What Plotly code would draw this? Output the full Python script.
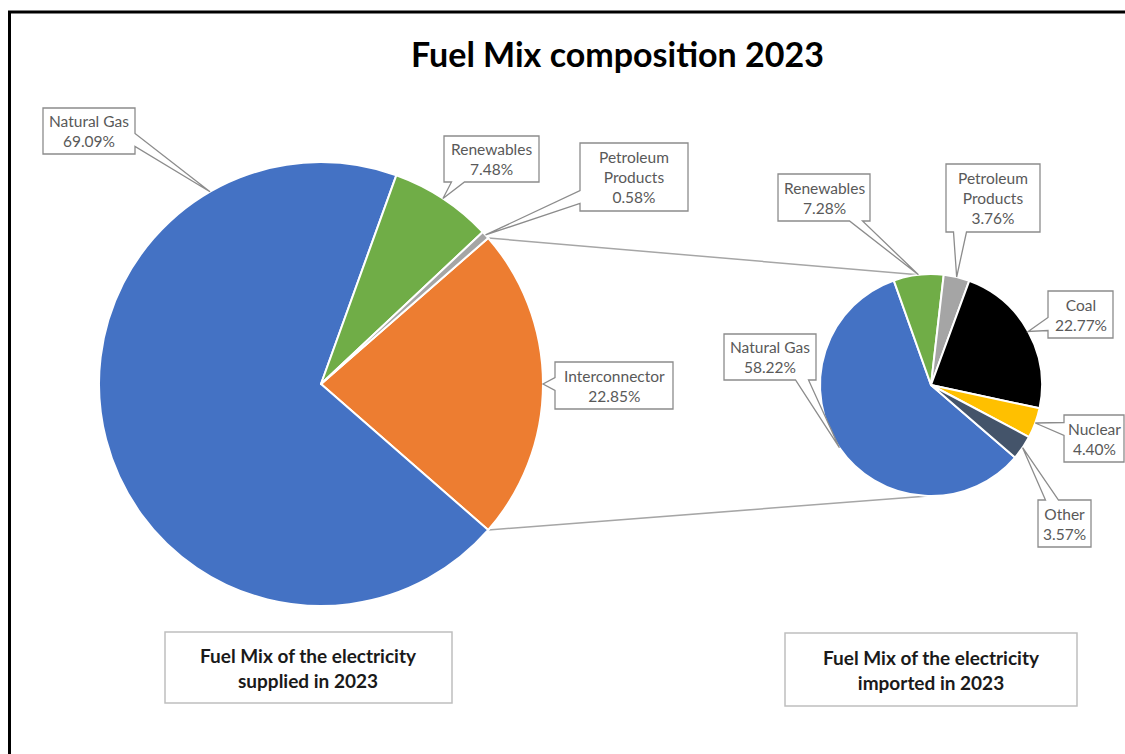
import math
import plotly.graph_objects as go

W, H = 1125, 754

# Fuel mix of the electricity supplied (primary pie)
supplied_labels = ["Interconnector", "Natural Gas", "Renewables", "Petroleum Products"]
supplied_values = [22.85, 69.09, 7.48, 0.58]
supplied_colors = ["#ED7D31", "#4472C4", "#70AD47", "#A5A5A5"]

# Fuel mix of the imported electricity (secondary pie)
imported_labels = ["Natural Gas", "Renewables", "Petroleum Products", "Coal", "Nuclear", "Other"]
imported_values = [58.22, 7.28, 3.76, 22.77, 4.40, 3.57]
imported_colors = ["#4472C4", "#70AD47", "#A5A5A5", "#000000", "#FFC000", "#44546A"]

FONT = "Lato, 'Open Sans', sans-serif"
LABEL_COLOR = "#595959"
CALLOUT_LINE = "#8C8C8C"


def px(x):
    return x / W


def py(y):
    return 1 - y / H


# pie geometry in pixels
LEFT = dict(cx=321, cy=384, r=222)
RIGHT = dict(cx=931, cy=385, r=111)

# primary pie: the interconnector slice is centred on the 3 o'clock direction
left_rotation = 90 - supplied_values[0] / sum(supplied_values) * 180
right_rotation = 130.8


def domain(p):
    return dict(x=[px(p["cx"] - p["r"]), px(p["cx"] + p["r"])],
                y=[py(p["cy"] + p["r"]), py(p["cy"] - p["r"])])


def slice_angles(values, rotation):
    total = sum(values)
    a = rotation
    out = []
    for v in values:
        span = v / total * 360
        out.append((a, a + span))
        a += span
    return out


def edge_point(p, angle_deg):
    t = math.radians(angle_deg)
    return p["cx"] + p["r"] * math.sin(t), p["cy"] - p["r"] * math.cos(t)


def callout_path(cx, cy, w, h, tip):
    l, r, t, b = cx - w / 2, cx + w / 2, cy - h / 2, cy + h / 2
    tx, ty = tip
    dx = l - tx if tx < l else (tx - r if tx > r else 0)
    dy = t - ty if ty < t else (ty - b if ty > b else 0)
    half = 6.5

    def c(v, lo, hi):
        return max(lo + 14, min(hi - 14, v))

    pts = [(l, t)]
    if dy > dx and ty < t:
        m = c(tx, l, r)
        pts += [(m - half, t), (tx, ty), (m + half, t)]
    pts.append((r, t))
    if dx >= dy and tx > r:
        m = c(ty, t, b)
        pts += [(r, m - half), (tx, ty), (r, m + half)]
    pts.append((r, b))
    if dy > dx and ty > b:
        m = c(tx, l, r)
        pts += [(m + half, b), (tx, ty), (m - half, b)]
    pts.append((l, b))
    if dx >= dy and tx < l:
        m = c(ty, t, b)
        pts += [(l, m + half), (tx, ty), (l, m - half)]
    return "M " + " L ".join(f"{px(x):.5f},{py(y):.5f}" for x, y in pts) + " Z"


display_name = {"Petroleum Products": "Petroleum<br>Products"}

# callout boxes: centre x, centre y, width, height (pixels); optional leader angle
left_boxes = {
    "Natural Gas": (89, 131, 92, 46, 330),
    "Renewables": (491.5, 159, 95, 46, None),
    "Petroleum Products": (634, 177, 108, 68, None),
    "Interconnector": (614, 385.5, 118, 47, None),
}
right_boxes = {
    "Natural Gas": (770, 357, 92, 46, None),
    "Renewables": (824, 197.5, 92, 47, None),
    "Petroleum Products": (993, 198, 94, 68, None),
    "Coal": (1080.5, 314.5, 65, 47, None),
    "Nuclear": (1094, 438.5, 60, 47, None),
    "Other": (1064.5, 523.5, 53, 47, None),
}

fig = go.Figure()
fig.add_trace(go.Pie(
    labels=supplied_labels, values=supplied_values, sort=False,
    direction="clockwise", rotation=left_rotation,
    marker=dict(colors=supplied_colors, line=dict(color="white", width=2)),
    textinfo="none", hoverinfo="label+percent", domain=domain(LEFT),
))
fig.add_trace(go.Pie(
    labels=imported_labels, values=imported_values, sort=False,
    direction="clockwise", rotation=right_rotation,
    marker=dict(colors=imported_colors, line=dict(color="white", width=2)),
    textinfo="none", hoverinfo="label+percent", domain=domain(RIGHT),
))

shapes = []
annotations = []

# outer frame
shapes.append(dict(type="rect", xref="paper", yref="paper",
                   x0=px(9.5), y0=py(12), x1=px(W + 20), y1=py(H + 20),
                   line=dict(color="black", width=3), layer="below"))

# connector lines between the interconnector slice and the secondary pie
left_angles = slice_angles(supplied_values, left_rotation)
a_start, a_end = left_angles[0]
for la, ra in ((a_start, -6.7), (a_end, 181.5)):
    x0, y0 = edge_point(LEFT, la)
    x1, y1 = edge_point(RIGHT, ra)
    shapes.append(dict(type="line", xref="paper", yref="paper",
                       x0=px(x0), y0=py(y0), x1=px(x1), y1=py(y1),
                       line=dict(color="#A6A6A6", width=1.5), layer="below"))


def add_callouts(pie, labels, values, rotation, boxes):
    angles = slice_angles(values, rotation)
    for lab, val, (a0, a1) in zip(labels, values, angles):
        cx, cy, w, h, override = boxes[lab]
        ang = override if override is not None else (a0 + a1) / 2
        tip = edge_point(pie, ang)
        shapes.append(dict(type="path", xref="paper", yref="paper",
                           path=callout_path(cx, cy, w, h, tip),
                           fillcolor="white",
                           line=dict(color=CALLOUT_LINE, width=1.3),
                           layer="above"))
        annotations.append(dict(
            x=px(cx), y=py(cy), xref="paper", yref="paper", showarrow=False,
            text=f"{display_name.get(lab, lab)}<br>{val:.2f}%",
            font=dict(family=FONT, size=15.5, color=LABEL_COLOR),
            xanchor="center", yanchor="middle", align="center"))


add_callouts(LEFT, supplied_labels, supplied_values, left_rotation, left_boxes)
add_callouts(RIGHT, imported_labels, imported_values, right_rotation, right_boxes)

# captions under each pie
captions = [
    ((165, 632, 452, 703), "Fuel Mix of the electricity<br>supplied in 2023"),
    ((785, 633, 1077, 706), "Fuel Mix of the electricity<br>imported in 2023"),
]
for (x0, y0, x1, y1), txt in captions:
    shapes.append(dict(type="rect", xref="paper", yref="paper",
                       x0=px(x0), y0=py(y0), x1=px(x1), y1=py(y1),
                       line=dict(color="#BFBFBF", width=1.5), fillcolor="white",
                       layer="above"))
    annotations.append(dict(
        x=px((x0 + x1) / 2), y=py((y0 + y1) / 2), xref="paper", yref="paper",
        showarrow=False, text=f"<b>{txt}</b>", align="center",
        font=dict(family=FONT, size=19, color="#1A1A1A"),
        xanchor="center", yanchor="middle"))

# chart title
annotations.append(dict(
    x=px(617), y=py(53), xref="paper", yref="paper", showarrow=False,
    text="<b>Fuel Mix composition 2023</b>",
    font=dict(family=FONT, size=34, color="black"),
    xanchor="center", yanchor="middle"))

fig.update_layout(
    width=W, height=H,
    margin=dict(l=0, r=0, t=0, b=0),
    paper_bgcolor="white", plot_bgcolor="white",
    showlegend=False,
    shapes=shapes, annotations=annotations,
)

fig.write_html("out.html")
